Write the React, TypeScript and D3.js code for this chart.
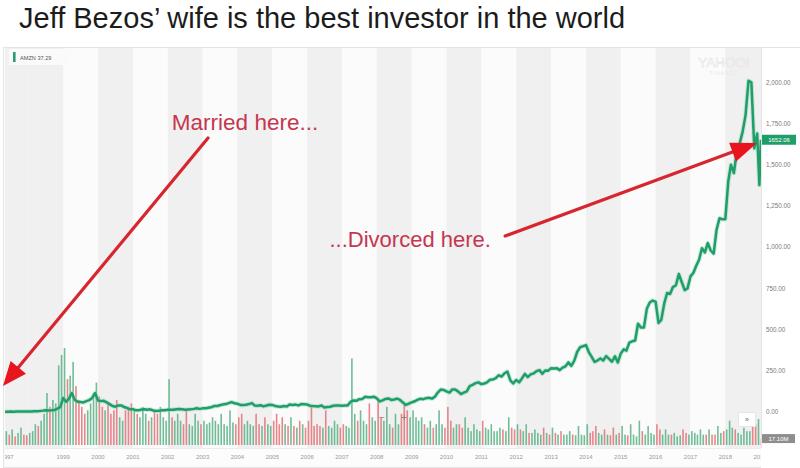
import React from "react";
import * as d3 from "d3";

const WIDTH = 800;
const HEIGHT = 468;

const chartTitle = "Jeff Bezos’ wife is the best investor in the world";
const symbolLabel = "AMZN 37.29";
const watermarkTop = "YAHOO!";
const watermarkBottom = "FINANCE";

// Monthly closing prices (split-adjusted), one value per month from May 1997
const firstMonth = "1997-05-01";
const monthlyCloses = [
  // 1997 (May–Dec)
  1.7, 1.6, 2.4, 2.1, 2.6, 3.0, 2.8, 2.5,
  // 1998
  2.7, 3.5, 4.9, 4.7, 6.2, 8.4, 11.2, 9.5, 10.1, 12.0, 20.0, 30.0,
  // 1999
  85, 62, 80, 115, 75, 62, 60, 58, 66, 72, 85, 115,
  // 2000
  70, 66, 68, 58, 48, 36, 32, 40, 40, 30, 24, 16,
  // 2001
  17, 10, 10, 15, 16, 14, 16, 9, 6, 7, 11, 11,
  // 2002
  14, 13, 14, 17, 18, 16, 14, 15, 16, 19, 23, 19,
  // 2003
  22, 22, 26, 29, 36, 36, 41, 46, 48, 54, 60, 53,
  // 2004
  50, 43, 43, 44, 48, 54, 39, 38, 41, 34, 39, 44,
  // 2005
  43, 36, 34, 32, 36, 33, 45, 43, 45, 40, 48, 47,
  // 2006
  45, 38, 36, 35, 34, 39, 27, 30, 32, 38, 40, 39,
  // 2007
  38, 39, 40, 61, 70, 68, 78, 79, 93, 89, 90, 93,
  // 2008
  83, 64, 71, 79, 82, 73, 76, 81, 73, 57, 43, 51,
  // 2009
  58, 65, 73, 81, 78, 84, 86, 81, 93, 118, 136, 134,
  // 2010
  125, 118, 136, 137, 125, 109, 118, 125, 157, 165, 175, 180,
  // 2011
  169, 173, 180, 196, 197, 205, 223, 215, 235, 245, 192, 173,
  // 2012
  194, 180, 203, 231, 212, 228, 234, 248, 254, 232, 252, 251,
  // 2013
  265, 264, 266, 254, 269, 277, 301, 280, 312, 364, 393, 399,
  // 2014
  406, 362, 336, 304, 312, 325, 313, 339, 322, 305, 338, 300,
  // 2015
  354, 380, 372, 421, 429, 434, 536, 512, 512, 626, 664, 676,
  // 2016
  670, 540, 560, 659, 722, 716, 758, 769, 837, 789, 740, 750,
  // 2017
  823, 845, 886, 924, 994, 968, 1025, 980, 961, 1105, 1176, 1169,
  // 2018
  1170, 1400, 1500, 1450, 1580, 1630, 1700, 1800, 2010, 2000, 1600, 1690,
];
// Last trading days shown after the monthly series
const finalDays = ["2018-12-24", "2019-01-09"];
const finalCloses = [1377, 1652.06];

// Monthly volume (millions of shares), same months as the closes, plus Jan 2019
const monthlyVolumes = [
  // 1997
  40, 30, 45, 25, 35, 50, 30, 28,
  // 1998
  35, 40, 60, 55, 70, 90, 150, 110, 130, 120, 230, 260,
  // 1999
  280, 190, 200, 240, 170, 130, 110, 90, 100, 120, 150, 180,
  // 2000
  140, 110, 100, 120, 90, 100, 130, 80, 70, 100, 110, 120,
  // 2001
  100, 90, 80, 110, 90, 70, 80, 100, 90, 110, 80, 70,
  // 2002
  190, 80, 70, 90, 70, 60, 100, 60, 55, 90, 70, 60,
  // 2003
  70, 60, 65, 80, 70, 60, 90, 60, 55, 100, 65, 60,
  // 2004
  80, 90, 60, 70, 60, 55, 90, 60, 55, 80, 60, 55,
  // 2005
  70, 90, 60, 80, 60, 55, 80, 55, 50, 70, 60, 50,
  // 2006
  70, 110, 55, 60, 55, 50, 100, 55, 50, 70, 60, 50,
  // 2007
  60, 55, 50, 250, 90, 70, 100, 70, 60, 120, 80, 70,
  // 2008
  130, 80, 70, 110, 60, 50, 90, 60, 90, 120, 100, 80,
  // 2009
  100, 80, 70, 80, 60, 50, 70, 50, 60, 100, 60, 50,
  // 2010
  110, 70, 50, 60, 60, 50, 80, 50, 40, 60, 45, 40,
  // 2011
  70, 50, 45, 60, 40, 40, 50, 45, 40, 80, 50, 45,
  // 2012
  60, 45, 40, 60, 35, 35, 45, 35, 30, 50, 35, 30,
  // 2013
  50, 35, 30, 40, 30, 30, 40, 30, 28, 55, 30, 28,
  // 2014
  60, 35, 40, 55, 35, 30, 45, 30, 28, 50, 30, 35,
  // 2015
  55, 30, 28, 60, 30, 25, 70, 40, 30, 55, 35, 30,
  // 2016
  60, 45, 30, 45, 30, 30, 35, 25, 28, 45, 35, 30,
  // 2017
  40, 35, 30, 45, 30, 30, 45, 30, 30, 55, 35, 40,
  // 2018
  45, 70, 50, 45, 35, 30, 50, 40, 40, 90, 60, 75,
  // 2019
  17.1,
];

const priceTicks = [0, 250, 500, 750, 1000, 1250, 1500, 1750, 2000];
const yearTicks = [1997, 1999, 2000, 2001, 2002, 2003, 2004, 2005, 2006, 2007, 2008,
  2009, 2010, 2011, 2012, 2013, 2014, 2015, 2016, 2017, 2018, 2019];

// Annotations, anchored in (date, price) space
const marriedText = { date: "2002-02-13", value: 1711, text: "Married here..." };
const divorcedText = { date: "2006-08-23", value: 1001, text: "...Divorced here." };
const marriedArrow = { from: ["2003-02-27", 1663], to: ["1997-04-10", 158] };
const divorcedArrow = { from: ["2011-09-07", 1068], to: ["2018-11-29", 1632] };

const FONT = "'Liberation Sans', Arial, Helvetica, sans-serif";
const parse = d3.timeParse("%Y-%m-%d");

function Arrow({ x1, y1, x2, y2, len, half }) {
  const dx = x2 - x1;
  const dy = y2 - y1;
  const d = Math.hypot(dx, dy);
  const ux = dx / d;
  const uy = dy / d;
  const bx = x2 - ux * len;
  const by = y2 - uy * len;
  const nx = -uy;
  const ny = ux;
  const head = [
    [x2, y2],
    [bx + nx * half, by + ny * half],
    [bx - nx * half, by - ny * half],
  ];
  return (
    <g>
      <line x1={x1} y1={y1} x2={bx + ux * 2} y2={by + uy * 2} stroke="#d8262e" strokeWidth={3.2} strokeLinecap="round" />
      <polygon points={head.map((p) => p.join(",")).join(" ")} fill="#e8141e" />
    </g>
  );
}

export default function App() {
  const start = parse(firstMonth);
  const end = parse("2019-01-10");
  const left = 5;
  const right = 761;
  const plotTop = 48;
  const volBase = 445;

  const x = d3.scaleTime().domain([start, end]).range([left, right]);
  const y = d3.scaleLinear().domain([0, 2000]).range([412, 82.4]);
  const v = d3.scaleLinear().domain([0, 280]).range([volBase, volBase - 97]);

  const points = monthlyCloses
    .map((c, i) => ({ date: d3.timeMonth.offset(start, i), value: c }))
    .concat(finalDays.map((d, i) => ({ date: parse(d), value: finalCloses[i] })));

  const line = d3
    .line<{ date: Date; value: number }>()
    .x((d) => x(d.date))
    .y((d) => y(d.value));
  const pathD = line(points) || "";

  const bars = monthlyVolumes.map((vol, i) => {
    const date = d3.timeDay.offset(d3.timeMonth.offset(start, i), 14);
    const cur = i < monthlyCloses.length ? monthlyCloses[i] : finalCloses[finalCloses.length - 1];
    const prev = i > 0 ? monthlyCloses[Math.min(i - 1, monthlyCloses.length - 1)] : cur;
    return { date, vol, up: cur >= prev };
  });

  // Alternating year bands
  const years = d3.range(1997, 2019);
  const bands = years.map((yr) => {
    const a = new Date(Math.max(+start, +new Date(yr, 0, 1)));
    const b = new Date(Math.min(+end, +new Date(yr + 1, 0, 1)));
    return { yr, x0: x(a), x1: yr === 2018 ? right : x(b) };
  });

  const fmt = d3.format(",.2f");
  const P = (p) => [x(parse(p[0])), y(p[1])];
  const ma0 = P(marriedArrow.from);
  const ma1 = P(marriedArrow.to);
  const da0 = P(divorcedArrow.from);
  const da1 = P(divorcedArrow.to);

  return (
    <svg
      width={WIDTH}
      height={HEIGHT}
      viewBox={`0 0 ${WIDTH} ${HEIGHT}`}
      style={{ position: "absolute", left: 0, top: 0, background: "#ffffff" }}
      fontFamily={FONT}
    >
      <defs>
        <clipPath id="plotClip">
          <rect x={left} y={plotTop} width={right - left} height={HEIGHT - plotTop} />
        </clipPath>
      </defs>

      <text x={19} y={28} fontSize={29} fill="#1c1c1c">
        {chartTitle}
      </text>

      {/* panel */}
      <rect x={3.5} y={plotTop - 0.5} width={WIDTH - 3} height={HEIGHT - plotTop} fill="#fbfbfb" stroke="#e4e4e4" />

      {bands.map((b) => (
        <rect
          key={b.yr}
          x={b.x0}
          y={plotTop}
          width={b.x1 - b.x0}
          height={volBase + 3 - plotTop}
          fill={b.yr % 2 === 0 || b.yr === 1997 ? "#f0f0f0" : "#fbfbfb"}
        />
      ))}

      {/* right axis area */}
      <rect x={right} y={plotTop} width={WIDTH - right} height={HEIGHT - plotTop} fill="#ffffff" />
      <line x1={right + 0.5} x2={right + 0.5} y1={plotTop} y2={448} stroke="#e3e3e3" />

      {/* x label strip */}
      <rect x={left} y={448} width={right - left} height={17} fill="#fcfcfc" />
      <line x1={left} x2={right} y1={448.5} y2={448.5} stroke="#ececec" />

      {/* watermark */}
      <text x={724} y={67} fontSize={13.5} textAnchor="middle" fill="none" stroke="#e6e6e6" strokeWidth={0.6}>
        {watermarkTop}
      </text>
      <text x={724} y={75} fontSize={5} textAnchor="middle" fill="#e8e8e8" letterSpacing={1}>
        {watermarkBottom}
      </text>

      {/* symbol legend */}
      <rect x={9} y={49} width={60} height={16} fill="#fafafa" />
      <rect x={13} y={52} width={2.6} height={10} fill="#2a9d6e" />
      <text x={20} y={59.6} fontSize={5.6} fill="#555">
        {symbolLabel}
      </text>

      {/* volume */}
      <g clipPath="url(#plotClip)">
        {bars.map((b, i) => (
          <rect
            key={i}
            x={x(b.date) - 0.8}
            y={v(b.vol)}
            width={1.6}
            height={volBase - v(b.vol)}
            fill={b.up ? "#4fae80" : "#e46a6e"}
            opacity={0.8}
          />
        ))}
      </g>

      {/* zoom controls */}
      <text x={382} y={421} fontSize={10} textAnchor="middle" fill="#8a8a8a">
        −
      </text>
      <text x={404} y={421} fontSize={10} textAnchor="middle" fill="#8a8a8a">
        +
      </text>
      <rect x={738.5} y={412.5} width={17} height={14} fill="#ffffff" stroke="#e6e6e6" />
      <text x={747} y={422} fontSize={7} textAnchor="middle" fill="#666">
        {"»"}
      </text>

      {/* price line */}
      <g clipPath="url(#plotClip)">
        <path d={pathD} fill="none" stroke="#8fd3b4" strokeWidth={4.5} strokeLinejoin="round" opacity={0.45} />
        <path d={pathD} fill="none" stroke="#1f9e69" strokeWidth={2.5} strokeLinejoin="round" />
      </g>

      {/* right price axis */}
      {priceTicks.map((t) => (
        <text key={t} x={766} y={y(t)} dy="0.35em" fontSize={6.3} fill="#7a7a7a">
          {fmt(t)}
        </text>
      ))}

      {/* year labels */}
      <g clipPath="url(#plotClip)">
        {yearTicks.map((yr) => {
          const d = yr === 1997 ? start : new Date(yr, 0, 1);
          return (
            <text key={yr} x={x(d) + (yr === 1997 ? 2 : 0)} y={459} fontSize={6} textAnchor="middle" fill="#9a9a9a">
              {yr}
            </text>
          );
        })}
      </g>

      {/* last price tag */}
      <rect x={762} y={y(finalCloses[1]) - 5} width={34} height={10} fill="#1f9e69" />
      <text x={779} y={y(finalCloses[1])} dy="0.35em" fontSize={6} textAnchor="middle" fill="#ffffff">
        {finalCloses[1].toFixed(2)}
      </text>

      {/* last volume tag */}
      <rect x={762} y={v(monthlyVolumes[monthlyVolumes.length - 1]) - 5} width={33} height={9} fill="#8e8e8e" />
      <text
        x={778.5}
        y={v(monthlyVolumes[monthlyVolumes.length - 1]) - 0.5}
        dy="0.35em"
        fontSize={6}
        textAnchor="middle"
        fill="#ffffff"
      >
        {monthlyVolumes[monthlyVolumes.length - 1].toFixed(2) + "M"}
      </text>

      {/* annotations */}
      <text x={x(parse(marriedText.date))} y={y(marriedText.value)} fontSize={22.5} fill="#c4374f">
        {marriedText.text}
      </text>
      <text x={x(parse(divorcedText.date))} y={y(divorcedText.value)} fontSize={22} fill="#c4374f">
        {divorcedText.text}
      </text>
      <Arrow x1={ma0[0]} y1={ma0[1]} x2={ma1[0]} y2={ma1[1]} len={24} half={10} />
      <Arrow x1={da0[0]} y1={da0[1]} x2={da1[0]} y2={da1[1]} len={26} half={10} />
    </svg>
  );
}
